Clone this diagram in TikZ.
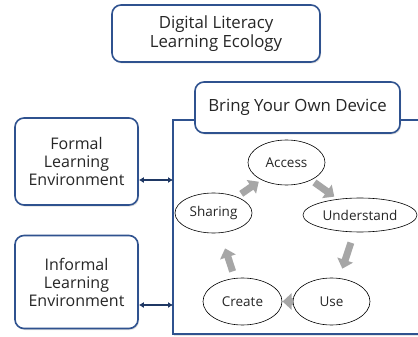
\documentclass[tikz,border=0pt]{standalone}
\usepackage{fontspec}
\setmainfont{Open Sans}
\usetikzlibrary{arrows.meta,shadows,calc,shapes.geometric}
\definecolor{boxblue}{HTML}{2F528F}
\definecolor{navy}{HTML}{1F3864}
\definecolor{arrgray}{HTML}{A6A6A6}
\definecolor{txt}{HTML}{262626}
\tikzset{
  bluebox/.style={draw=boxblue, line width=1.6pt, rounded corners=9pt, fill=white, text=txt,
    align=center, inner sep=0pt, font=\fontsize{16}{18}\selectfont,
    drop shadow={opacity=0.25, shadow xshift=1pt, shadow yshift=-1.5pt}},
  bigtext/.style={font=\fontsize{16.8}{19}\selectfont},
  stage/.style={draw=black, line width=0.6pt, ellipse, fill=white, text=txt, inner sep=0pt,
    font=\fontsize{13.5}{16}\selectfont},
  grayarrow/.style={draw=arrgray, line width=7pt, -{Triangle[width=16pt,length=9pt]}},
  link/.style={draw=navy, line width=1.2pt, {Latex[length=5pt,width=6pt]}-{Latex[length=5pt,width=6pt]}}
}
\begin{document}
\begin{tikzpicture}[x=1pt,y=-1pt]
\clip (0,0) rectangle (418,337);
\useasboundingbox (0,0) rectangle (418,337);
\fill[white] (0,0) rectangle (418,337);
% container
\draw[boxblue, line width=1.8pt, drop shadow={opacity=0.2, shadow xshift=1pt, shadow yshift=-1.5pt}, fill=white] (173,120) rectangle (440,334);
\node[bluebox, bigtext, minimum width=208pt, minimum height=57pt] (top) at (216,33.5) {Digital Literacy\\Learning Ecology};
\node[bluebox, bigtext, minimum width=205pt, minimum height=51pt] (byod) at (297.5,107.5) {Bring Your Own Device};
\node[bluebox, minimum width=123pt, minimum height=87pt] (formal) at (76.5,161.5) {Formal\\Learning\\Environment};
\node[bluebox, minimum width=123pt, minimum height=93pt] (informal) at (76.5,282) {Informal\\Learning\\Environment};
\coordinate (cf) at (173,180);
\coordinate (ci) at (173,305);
\draw[link] (formal.east |- cf) -- (cf);
\draw[link] (informal.east |- ci) -- (ci);
% stages
\node[stage, minimum width=77pt, minimum height=45pt] (ac) at (286.5,162.5) {Access};
\node[stage, minimum width=77pt, minimum height=40pt] (sh) at (213.5,213) {Sharing};
\node[stage, minimum width=114pt, minimum height=34pt] (un) at (360,215) {Understand};
\node[stage, minimum width=79pt, minimum height=47pt] (cr) at (242.5,301.5) {Create};
\node[stage, minimum width=77pt, minimum height=47pt] (us) at (331.5,301.5) {Use};
% cycle arrows
\draw[grayarrow] ($(sh)!0.38!(ac)$) -- ($(sh)!0.62!(ac)$);
\draw[grayarrow] ($(ac)!0.38!(un)$) -- ($(ac)!0.65!(un)$);
\draw[grayarrow] ($(un)!0.32!(us)$) -- ($(un)!0.62!(us)$);
\draw[grayarrow] ($(us)!0.43!(cr)$) -- ($(us)!0.55!(cr)$);
\draw[grayarrow] ($(cr)!0.34!(sh)$) -- ($(cr)!0.6!(sh)$);
\end{tikzpicture}
\end{document}
